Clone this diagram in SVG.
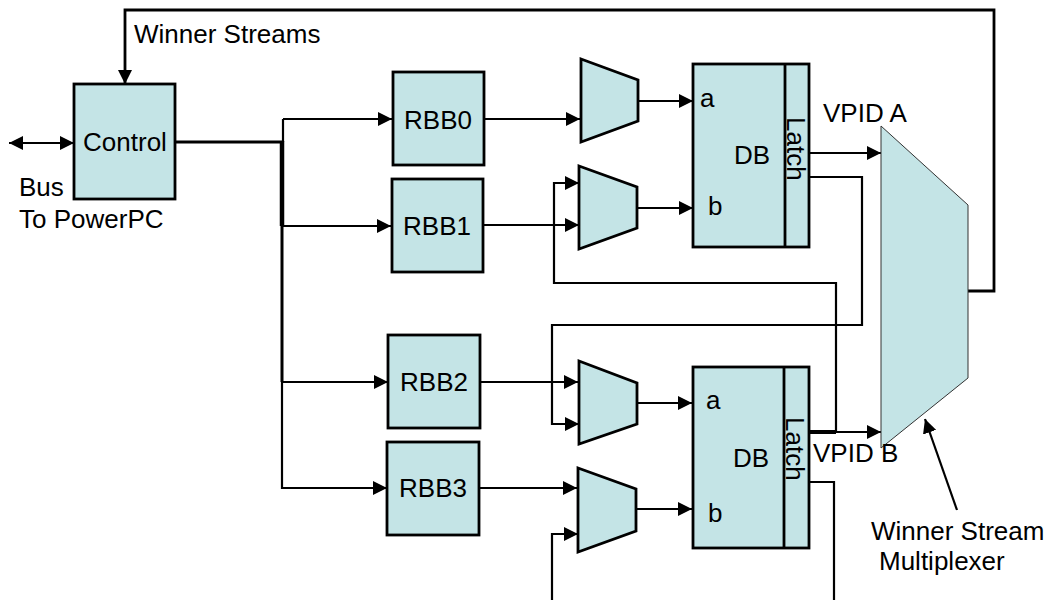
<svg xmlns="http://www.w3.org/2000/svg" width="1050" height="600" viewBox="0 0 1050 600">
  <style>
    .blk { fill: #C4E4E6; stroke: #000; stroke-width: 2.8; }
    .wsm { fill: #C4E4E6; stroke: #333; stroke-width: 1; }
    .w { fill: none; stroke: #000; stroke-width: 2.2; }
    .arr { marker-end: url(#ah); }
    .t { font-family: "Liberation Sans", Arial, sans-serif; font-size: 26px; fill: #000; }
    .c { text-anchor: middle; }
  </style>
  <defs>
    <marker id="ah" viewBox="0 0 14 14" refX="14" refY="7" markerWidth="14" markerHeight="14" markerUnits="userSpaceOnUse" orient="auto-start-reverse">
      <path d="M0,0 L14,7 L0,14 z" fill="#000"/>
    </marker>
  </defs>

  <!-- wires -->
  <g id="connectors">
    <!-- winner streams feedback to control -->
    <polyline class="w arr" style="stroke-width:2.8" points="968,291 994,291 994,10 125,10 125,84"/>
    <!-- bus to PowerPC -->
    <line class="w arr" x1="9" y1="143" x2="74" y2="143" marker-start="url(#ah)"/>
    <!-- control fan-out trunk -->
    <line class="w" style="stroke-width:3.2" x1="175" y1="142" x2="283" y2="142"/>
    <line class="w" x1="283" y1="119" x2="283" y2="142"/>
    <line class="w" style="stroke-width:4.5" x1="282" y1="141" x2="282" y2="226"/>
    <line class="w" style="stroke-width:3" x1="282" y1="226" x2="282" y2="382"/>
    <line class="w" x1="282" y1="382" x2="282" y2="489"/>
    <line class="w arr" x1="283" y1="119" x2="392" y2="119"/>
    <line class="w arr" x1="282" y1="226" x2="391" y2="226"/>
    <line class="w arr" x1="282" y1="382" x2="388" y2="382"/>
    <line class="w arr" x1="281" y1="488" x2="387" y2="488"/>
    <!-- RBB outputs to selectors -->
    <line class="w arr" x1="484" y1="119" x2="580" y2="119"/>
    <line class="w arr" x1="483" y1="225" x2="579" y2="225"/>
    <line class="w arr" x1="480" y1="382" x2="578" y2="382"/>
    <line class="w arr" x1="479" y1="488" x2="577" y2="488"/>
    <!-- selector outputs into DB -->
    <line class="w arr" x1="638" y1="101" x2="693" y2="101"/>
    <line class="w arr" x1="637" y1="208" x2="693" y2="208"/>
    <line class="w arr" x1="637" y1="403" x2="692" y2="403"/>
    <line class="w arr" x1="636" y1="509" x2="692" y2="509"/>
    <!-- latch outputs -->
    <line class="w arr" x1="809" y1="153" x2="881" y2="153"/>
    <polyline class="w arr" points="809,177 862,177 862,325 552,325 552,424 579,424"/>
    <line class="w" style="stroke-width:4" x1="809" y1="432" x2="836" y2="432"/>
    <line class="w arr" x1="836" y1="432" x2="881" y2="432"/>
    <polyline class="w arr" points="836,432 836,283 554,283 554,183 579,183"/>
    <polyline class="w" points="809,482 834,482 834,600"/>
    <polyline class="w arr" points="552,600 552,534 578,534"/>
    <!-- pointer to the winner stream multiplexer -->
    <line class="w arr" x1="957" y1="510" x2="925" y2="419"/>
  </g>

  <g id="control">
    <rect class="blk" x="74" y="84" width="101" height="115"/>
    <text class="t c" x="125" y="151">Control</text>
  </g>
  <g id="bus-label">
    <text class="t" x="19" y="196">Bus</text>
    <text class="t" x="19" y="228">To PowerPC</text>
  </g>
  <g id="winner-streams-label">
    <text class="t" x="134" y="43">Winner Streams</text>
  </g>

  <g id="rbb0">
    <rect class="blk" x="393" y="72" width="91" height="93"/>
    <text class="t c" x="438" y="129">RBB0</text>
  </g>
  <g id="rbb1">
    <rect class="blk" x="392" y="179" width="91" height="93"/>
    <text class="t c" x="437" y="235">RBB1</text>
  </g>
  <g id="rbb2">
    <rect class="blk" x="388" y="335" width="92" height="93"/>
    <text class="t c" x="434" y="391">RBB2</text>
  </g>
  <g id="rbb3">
    <rect class="blk" x="387" y="442" width="92" height="93"/>
    <text class="t c" x="433" y="497">RBB3</text>
  </g>

  <g id="sel0"><polygon class="blk" points="581,59 638,80 638,121 581,142"/></g>
  <g id="sel1"><polygon class="blk" points="579,166 637,187 637,228 579,249"/></g>
  <g id="sel2"><polygon class="blk" points="579,361 637,383 637,424 579,444"/></g>
  <g id="sel3"><polygon class="blk" points="578,468 636,489 636,531 578,552"/></g>

  <g id="db-a">
    <rect class="blk" x="693" y="64" width="116" height="183"/>
    <line class="w" style="stroke-width:2.8" x1="785" y1="64" x2="785" y2="247"/>
    <text class="t" x="700" y="107">a</text>
    <text class="t" x="708" y="215">b</text>
    <text class="t" x="734" y="164">DB</text>
    <text class="t" transform="translate(787,117) rotate(90)">Latch</text>
  </g>
  <g id="db-b">
    <rect class="blk" x="693" y="367" width="116" height="181"/>
    <line class="w" style="stroke-width:2.8" x1="784" y1="367" x2="784" y2="548"/>
    <text class="t" x="706" y="409">a</text>
    <text class="t" x="708" y="522">b</text>
    <text class="t" x="733" y="467">DB</text>
    <text class="t" transform="translate(786,417) rotate(90)">Latch</text>
  </g>

  <g id="winner-mux">
    <polygon class="wsm" points="881,126 968,205 968,378 881,448"/>
  </g>
  <g id="vpid-labels">
    <text class="t" x="823" y="122">VPID A</text>
    <text class="t" x="813" y="462">VPID B</text>
  </g>
  <g id="winner-mux-label">
    <text class="t" x="871" y="540">Winner Stream</text>
    <text class="t" x="879" y="570">Multiplexer</text>
  </g>
</svg>
